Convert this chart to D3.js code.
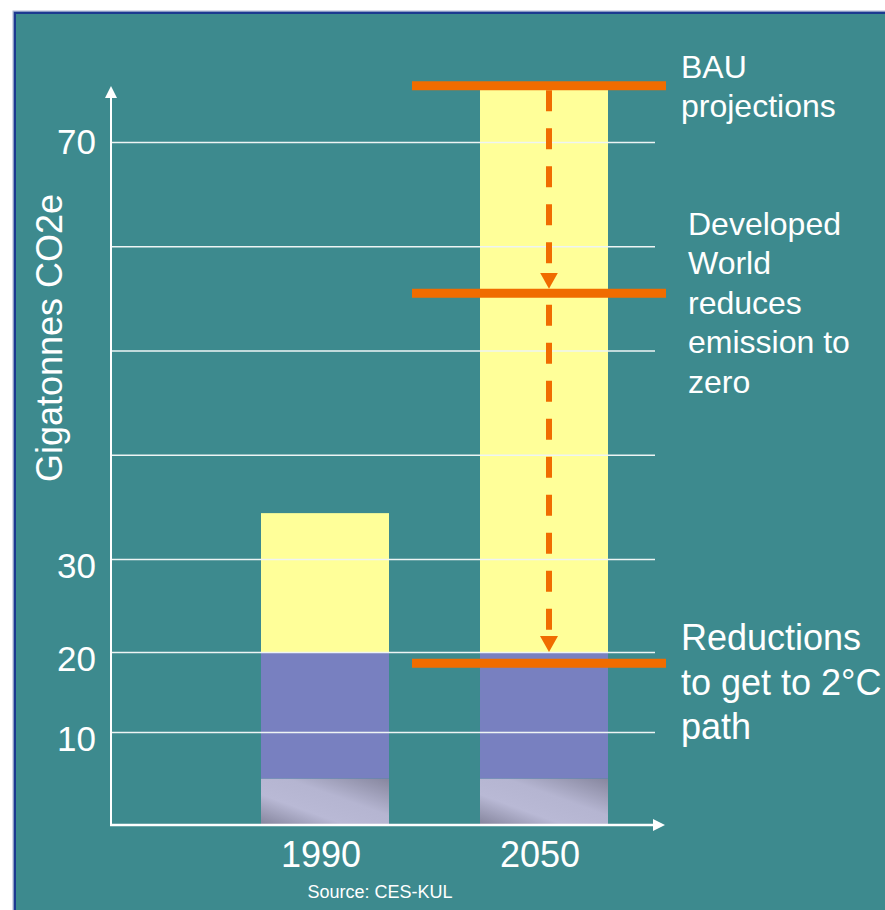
<!DOCTYPE html>
<html>
<head>
<meta charset="utf-8">
<script src="https://cdn.jsdelivr.net/npm/d3@7"></script>
<style>
  html, body { margin: 0; padding: 0; background: #ffffff; }
  svg { display: block; }
  text { font-family: "Liberation Sans", Arial, Helvetica, sans-serif; }
</style>
</head>
<body>
<svg id="chart" width="885" height="910"></svg>
<script>
// Emissions in gigatonnes CO2e, stacked in three segments per year
const categories = ["1990", "2050"];
const baseSegment = [5, 5];
const middleSegment = [15, 15];
const topSegment = [14.4, 55.4];

// Axis: the value scale is broken into linear pieces between these stops
const scaleStops = [0, 10, 20, 30, 70];
const gridValues = [10, 20, 30, 40, 50, 60, 70];
const tickLabelValues = [10, 20, 30, 70];

// Reference levels for 2050 and their captions
const levelValues = [75.4, 55.5, 18.6];
const levelLabels = [
  ["BAU", "projections"],
  ["Developed", "World", "reduces", "emission to", "zero"],
  ["Reductions", "to get to 2°C", "path"]
];

const yTitle = "Gigatonnes CO2e";
const sourceNote = "Source: CES-KUL";

// ---------------------------------------------------------------------------
const W = 885, H = 910;
const TEAL = "#3d8a8e";
const ORANGE = "#f06c00";
const WHITE = "#ffffff";
const axisX = 111, axisY = 825, gridRight = 655, xAxisTip = 665, yAxisTip = 86;

const svg = d3.select("#chart");
const defs = svg.append("defs");

// Shaded fill for the lowest segment
const grad = defs.append("linearGradient")
  .attr("id", "baseShade")
  .attr("x1", 0).attr("y1", 1).attr("x2", 1).attr("y2", 0);
[[0, "#84849c"], [0.33, "#b9b9d5"], [0.6, "#b5b5d1"], [1, "#86869e"]]
  .forEach(([o, c]) => grad.append("stop").attr("offset", o).attr("stop-color", c));

// Arrow heads
defs.append("marker")
  .attr("id", "whiteHead")
  .attr("viewBox", "0 0 12 12")
  .attr("refX", 0).attr("refY", 6)
  .attr("markerWidth", 12).attr("markerHeight", 12)
  .attr("markerUnits", "userSpaceOnUse")
  .attr("orient", "auto")
  .append("path").attr("d", "M0,0 L12,6 L0,12 Z").attr("fill", WHITE);

defs.append("marker")
  .attr("id", "orangeHead")
  .attr("viewBox", "0 0 16 18")
  .attr("refX", 0).attr("refY", 9)
  .attr("markerWidth", 16).attr("markerHeight", 18)
  .attr("markerUnits", "userSpaceOnUse")
  .attr("orient", "auto")
  .append("path").attr("d", "M0,0 L16,9 L0,18 Z").attr("fill", ORANGE);

// Slide panel with its frame
svg.append("rect").attr("x", 13).attr("y", 11).attr("width", W).attr("height", H)
  .attr("fill", "none").attr("stroke", "#a9b6d2").attr("stroke-width", 1);
svg.append("rect").attr("x", 14.8).attr("y", 12.8).attr("width", W).attr("height", H)
  .attr("fill", TEAL).attr("stroke", "#1c3a90").attr("stroke-width", 2.4);

// Scales
const y = d3.scaleLinear().domain(scaleStops).range([825, 732, 652, 559, 142]);
const x = d3.scaleBand().domain(categories).range([261, 608])
  .paddingInner(0.4155).paddingOuter(0);

// Stacked bars
const rows = categories.map((c, i) => ({
  year: c, base: baseSegment[i], middle: middleSegment[i], top: topSegment[i]
}));
const keys = ["base", "middle", "top"];
const fills = { base: "url(#baseShade)", middle: "#7880c0", top: "#ffff99" };
const series = d3.stack().keys(keys)(rows);

svg.append("g").selectAll("g").data(series).join("g")
  .attr("fill", d => fills[d.key])
  .selectAll("rect").data(d => d).join("rect")
  .attr("x", d => x(d.data.year))
  .attr("width", x.bandwidth())
  .attr("y", d => y(d[1]))
  .attr("height", d => y(d[0]) - y(d[1]));

// Gridlines
const grid = svg.append("g")
  .attr("transform", `translate(${axisX},0)`)
  .call(d3.axisRight(y).tickValues(gridValues).tickSize(gridRight - axisX).tickFormat(""));
grid.select(".domain").remove();
grid.selectAll(".tick line").attr("stroke", "#eef4f4").attr("stroke-width", 1.5);

// Axis lines with arrow heads
svg.append("line")
  .attr("x1", axisX).attr("y1", axisY + 1).attr("x2", axisX).attr("y2", yAxisTip + 12)
  .attr("stroke", WHITE).attr("stroke-width", 2)
  .attr("marker-end", "url(#whiteHead)");
svg.append("line")
  .attr("x1", axisX - 1).attr("y1", axisY).attr("x2", xAxisTip - 12).attr("y2", axisY)
  .attr("stroke", WHITE).attr("stroke-width", 2.5)
  .attr("marker-end", "url(#whiteHead)");

// Value labels
const yLabels = svg.append("g")
  .attr("transform", `translate(96,0)`)
  .call(d3.axisLeft(y).tickValues(tickLabelValues).tickSize(0).tickPadding(0));
yLabels.select(".domain").remove();
yLabels.selectAll(".tick text")
  .attr("fill", WHITE)
  .attr("font-size", 35)
  .attr("font-family", "'Liberation Sans', Arial, sans-serif")
  .attr("dy", d => d === 70 ? "0.32em" : "0.52em");

// Year labels
const xLabels = svg.append("g")
  .attr("transform", `translate(-4,${axisY})`)
  .call(d3.axisBottom(x).tickSize(0).tickPadding(0));
xLabels.select(".domain").remove();
xLabels.selectAll(".tick text")
  .attr("fill", WHITE)
  .attr("font-size", 36)
  .attr("font-family", "'Liberation Sans', Arial, sans-serif")
  .attr("dy", null)
  .attr("y", 42);

// Axis title
svg.append("text")
  .attr("transform", "translate(62,338) rotate(-90)")
  .attr("text-anchor", "middle")
  .attr("fill", WHITE)
  .attr("font-size", 36)
  .text(yTitle);

// Reference levels
svg.append("g").selectAll("line").data(levelValues).join("line")
  .attr("x1", 412).attr("x2", 666)
  .attr("y1", d => y(d)).attr("y2", d => y(d))
  .attr("stroke", ORANGE).attr("stroke-width", 9);

// Dashed arrows stepping down between the levels
const arrowX = x("2050") + x.bandwidth() / 2 + 5;
const half = 4.5;
const steps = [
  { from: y(levelValues[0]) + half, to: y(levelValues[1]) - half },
  { from: y(levelValues[1]) + half + 7, to: y(20) }
];
svg.append("g").selectAll("line").data(steps).join("line")
  .attr("x1", arrowX).attr("x2", arrowX)
  .attr("y1", d => d.from).attr("y2", d => d.to - 16)
  .attr("stroke", ORANGE).attr("stroke-width", 6)
  .attr("stroke-dasharray", "21,17")
  .attr("marker-end", "url(#orangeHead)");

// Captions for the levels
const captionLayout = [
  { x: 681, baseline: 78, lineHeight: 39, size: 32 },
  { x: 688, baseline: 235, lineHeight: 39.4, size: 32 },
  { x: 681, baseline: 650, lineHeight: 44.5, size: 36 }
];
levelLabels.forEach((lines, i) => {
  const L = captionLayout[i];
  const t = svg.append("text")
    .attr("fill", WHITE)
    .attr("font-size", L.size);
  lines.forEach((s, j) => {
    t.append("tspan").attr("x", L.x).attr("y", L.baseline + j * L.lineHeight).text(s);
  });
});

// Source note
svg.append("text")
  .attr("x", 380).attr("y", 898)
  .attr("text-anchor", "middle")
  .attr("fill", WHITE)
  .attr("font-size", 18)
  .text(sourceNote);
</script>
</body>
</html>
